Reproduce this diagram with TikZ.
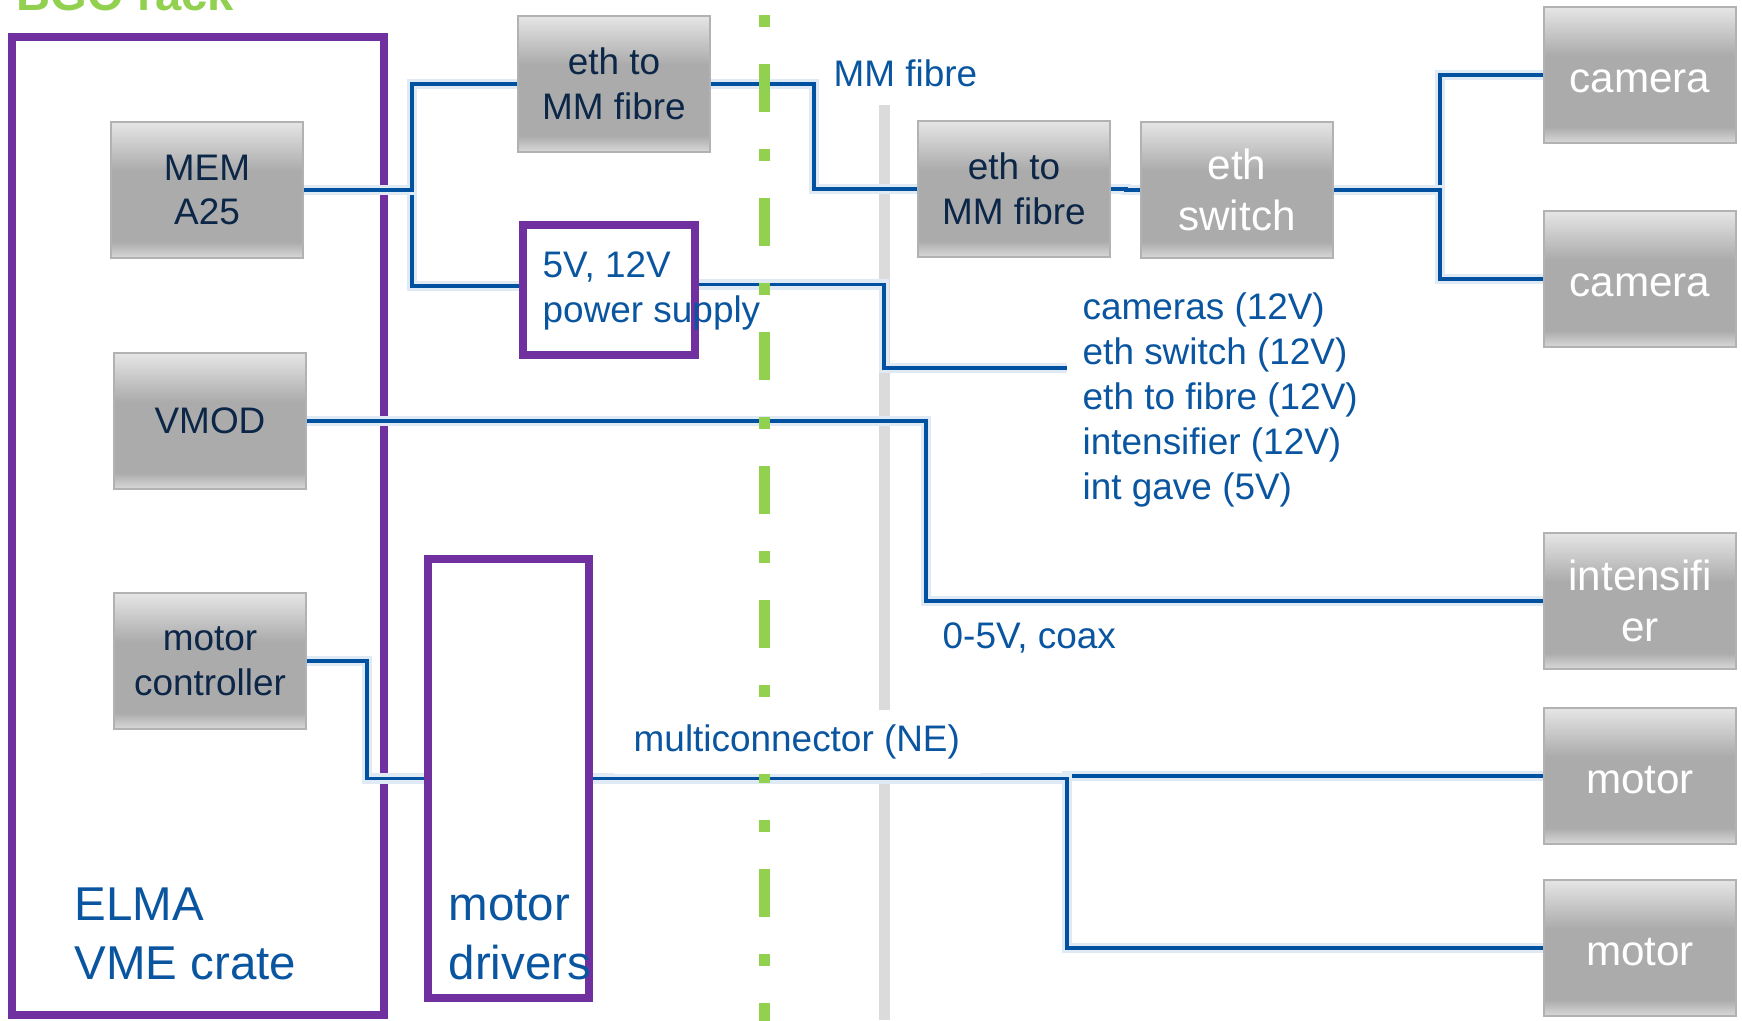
\documentclass[tikz,border=0pt]{standalone}
\usepackage{fontspec}
\setmainfont{Liberation Sans}
\definecolor{frameviolet}{RGB}{112,48,160}
\definecolor{wireblue}{RGB}{0,82,160}
\definecolor{tagblue}{RGB}{10,85,160}
\definecolor{boxnavy}{RGB}{12,38,72}
\definecolor{rackgreen}{RGB}{146,208,80}
\pgfdeclareverticalshading{boxgrey}{100bp}{color(0bp)=(black!15); color(25bp)=(black!15); color(31bp)=(black!33); color(57bp)=(black!33); color(75bp)=(black!10); color(100bp)=(black!10)}
\begin{document}
\begin{tikzpicture}[x=0.01cm,y=-0.01cm,
  box/.style={shade,shading=boxgrey,draw=black!30,line width=0.5pt,minimum width=1.92cm,minimum height=1.36cm,align=center,inner sep=0pt},
  dark/.style={box,text=boxnavy,font=\fontsize{10.5pt}{12.7pt}\selectfont},
  light/.style={box,text=white,font=\fontsize{12pt}{14.5pt}\selectfont},
  solo/.style={text height=0.34cm,text depth=0pt},
  frame/.style={draw=frameviolet,line width=0.08cm,inner sep=0pt},
  wire/.style={draw=wireblue,line width=1pt,preaction={draw=wireblue!12,line width=3pt}},
  tag/.style={text=tagblue,font=\fontsize{10.5pt}{12.8pt}\selectfont,inner sep=0pt,align=left},
  big/.style={text=tagblue,font=\fontsize{13.5pt}{16.8pt}\selectfont,inner sep=0pt,align=left}]
\useasboundingbox (0,0) rectangle (1742,1020);
\node[anchor=base west,inner sep=0pt,text=rackgreen,font=\bfseries\fontsize{13.4pt}{16pt}\selectfont] (title) at (16,10) {BGO rack};
% outside line and rack boundary
\draw[line width=0.11cm,black!14] (884,105) -- (884,1020);
\node[frame,minimum width=3.72cm,minimum height=9.78cm] (crate) at (198,526) {};
\node[frame,minimum width=1.72cm,minimum height=1.30cm] (psu) at (609,290) {};
\node[frame,minimum width=1.61cm,minimum height=4.39cm] (drv) at (508.5,778.5) {};
\node[dark] (mem) at (207,190) {MEM\\A25};
\node[dark] (vmod) at (210,421) {VMOD};
\node[dark] (ctrl) at (210,661) {motor\\controller};
\node[dark] (ethA) at (614,84) {eth to\\MM fibre};
\node[dark] (ethB) at (1014,189) {eth to\\MM fibre};
\node[light] (sw) at (1237,190) {eth\\switch};
\node[light,solo] (camA) at (1640,75) {camera};
\node[light,solo] (camB) at (1640,279) {camera};
\node[light] (intf) at (1640,601) {intensifi\\er};
\node[light,solo] (motA) at (1640,776) {motor};
\node[light,solo] (motB) at (1640,948) {motor};
\coordinate (powerEnd) at (1067,368);
\draw[wire] (mem.east) -- ++(108,0) |- ([yshift=0.04cm]psu.west);
\draw[wire] (mem.east) -- ++(108,0) |- (ethA.west);
\draw[wire] (ethA.east) -- ++(103,0) |- (ethB.west);
\draw[wire] (ethB.east) -- ++(15,0) |- (sw.west);
\draw[wire] (sw.east) -- ++(106,0) |- (camA.west);
\draw[wire] (sw.east) -- ++(106,0) |- (camB.west);
\draw[wire] ([yshift=0.055cm]psu.east) -- ++(185,0) |- (powerEnd);
\draw[wire] (vmod.east) -- ++(619,0) |- (intf.west);
\draw[wire] (ctrl.east) -- ++(60,0) |- (drv.west);
\draw[wire] (drv.east) -- ++(474,0) |- (motA.west);
\draw[wire] (drv.east) -- ++(474,0) |- (motB.west);
% rack edge
\draw[line width=0.11cm,rackgreen,dash pattern=on 0.48cm off 0.37cm on 0.12cm off 0.37cm] (764,-70) -- (764,1030);
\node[tag,anchor=west] (fibreTag) at (833,73) {MM fibre};
\node[tag,anchor=west] (coaxTag) at (942,638) {0-5V, coax};
\node[tag,anchor=west,fill=white,inner xsep=0.2cm,inner ysep=0.15cm] (multiTag) at (613,742) {multiconnector (NE)};
\node[tag,anchor=west] (powerTag) at (1082,400) {cameras (12V)\\eth switch (12V)\\eth to fibre (12V)\\intensifier (12V)\\int gave (5V)};
\node[tag,anchor=west] (psuTag) at (542,291) {5V, 12V\\power supply};
\node[big,anchor=west] (crateTag) at (74,934) {ELMA\\VME crate};
\node[big,anchor=west] (drvTag) at (448,935) {motor\\drivers};
\end{tikzpicture}
\end{document}
